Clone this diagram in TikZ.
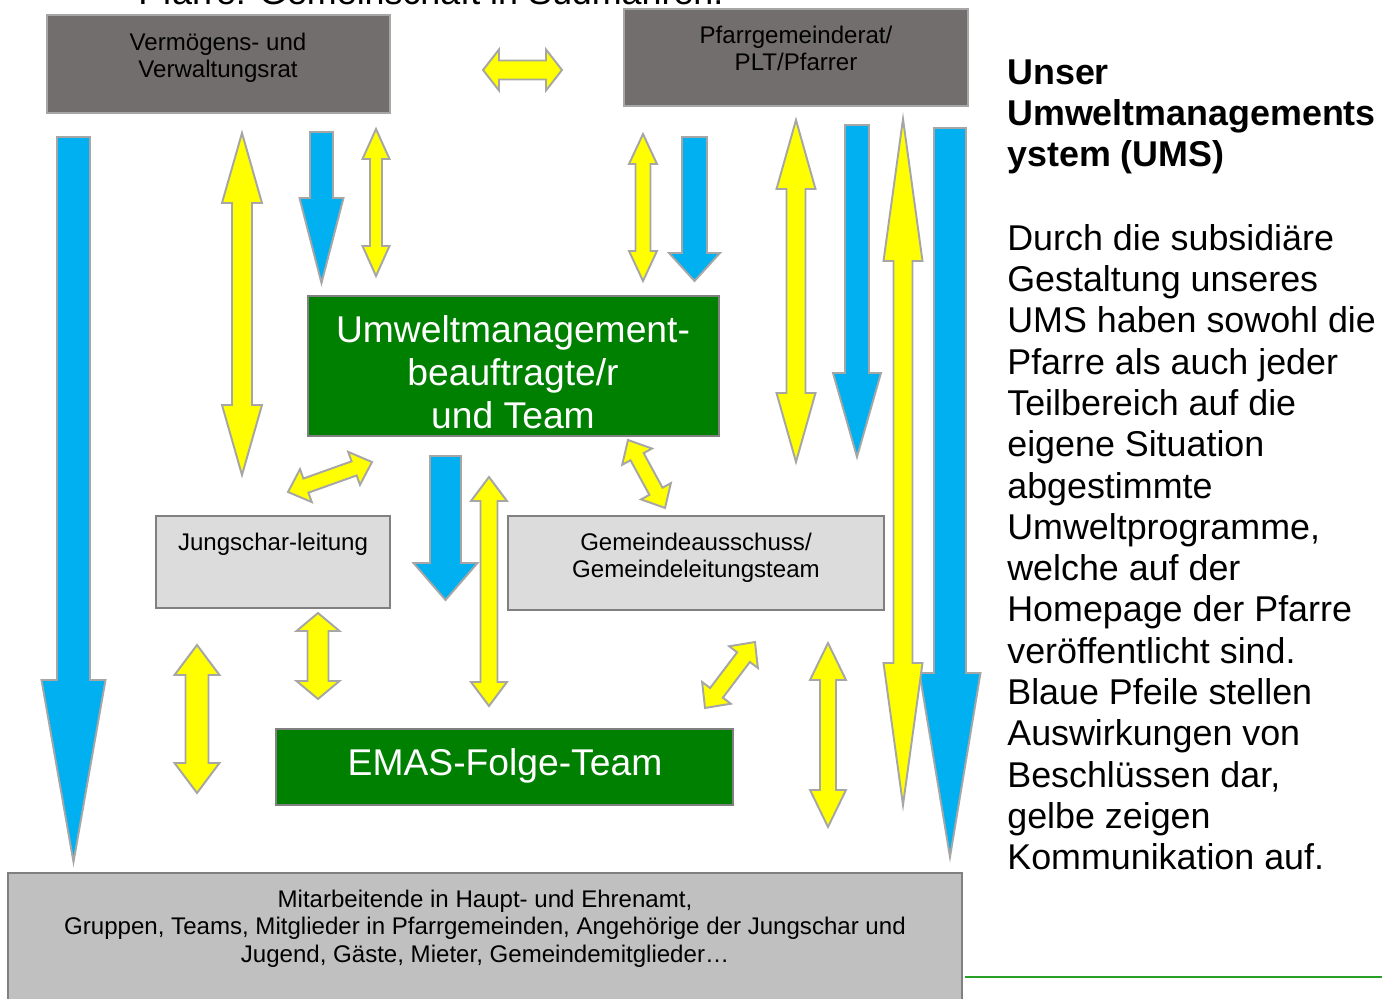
\documentclass[tikz,border=0pt]{standalone}
\usepackage{fontspec}
\setmainfont{Liberation Sans}
\usetikzlibrary{fit,positioning}

\definecolor{boxdark}{RGB}{114,110,109}
\definecolor{boxlight}{RGB}{220,220,220}
\definecolor{boxmid}{RGB}{192,192,192}
\definecolor{umsgreen}{RGB}{0,128,0}
\definecolor{umsblue}{RGB}{0,176,240}
\definecolor{umsyellow}{RGB}{255,255,0}
\definecolor{rimgray}{RGB}{166,166,166}
\definecolor{boxrim}{RGB}{128,128,128}
\definecolor{linegreen}{RGB}{40,160,40}

\newcommand{\boxfont}{\fontsize{13.7}{15.6}\selectfont}
\newcommand{\teamfont}{\fontsize{21.2}{24.4}\selectfont}
\newcommand{\bodyfont}{\fontsize{20.4}{23.5}\selectfont}

\tikzset{
  gremium/.style={rectangle, inner sep=0pt, line width=1.2pt},
  darkbox/.style={gremium, fill=boxdark, draw=boxrim!70},
  greenbox/.style={gremium, fill=umsgreen, draw=boxrim},
  lightbox/.style={gremium, fill=boxlight, draw=boxrim},
  basebox/.style={gremium, fill=boxmid, draw=boxrim},
  boxtext/.style={inner sep=0pt, align=center, anchor=north, font=\boxfont},
  teamtext/.style={inner sep=0pt, align=center, anchor=north, font=\teamfont, text=white},
  bluearrow/.style={fill=umsblue, draw=rimgray, line width=1.1pt},
  yellowarrow/.style={fill=umsyellow, draw=rimgray, line width=1.1pt},
}

% block arrow: style, start, angle, length, shaft half width, head half width, head length
\newcommand{\umsarrow}[7]{%
  \draw[#1, shift={#2}, rotate=#3]
    (0,-#5) -- ({#4-#7},-#5) -- ({#4-#7},-#6) -- (#4,0)
    -- ({#4-#7},#6) -- ({#4-#7},#5) -- (0,#5) -- cycle;}
\newcommand{\umsdoublearrow}[7]{%
  \draw[#1, shift={#2}, rotate=#3]
    (0,0) -- (#7,-#6) -- (#7,-#5) -- ({#4-#7},-#5) -- ({#4-#7},-#6) -- (#4,0)
    -- ({#4-#7},#6) -- ({#4-#7},#5) -- (#7,#5) -- (#7,#6) -- cycle;}

\begin{document}
\begin{tikzpicture}[x=0.02cm, y=-0.02cm]
  \useasboundingbox (0,0) rectangle (1394,999);

  % cut title
  \node[inner sep=0pt, anchor=base west, font=\bodyfont] (title) at (138,5)
    {Pfarre: Gemeinschaft in Südmähren.};

  % Gremien
  \node[darkbox, fit={(47,15) (390,113)}] (vvr) {};
  \node[boxtext] (vvr-text) at (218,32.5) {Vermögens- und\\Verwaltungsrat};
  \node[darkbox, fit={(624,9) (968,106)}] (pgr) {};
  \node[boxtext] (pgr-text) at (796,25.5) {Pfarrgemeinderat/\\PLT/Pfarrer};
  \node[greenbox, fit={(308,296) (719,436)}] (umb) {};
  \node[teamtext] (umb-text) at (513,315) {Umweltmanagement-\\beauftragte/r\\und Team};
  \node[lightbox, fit={(156,516) (390,608)}] (jsl) {};
  \node[boxtext] (jsl-text) at (273,532.5) {Jungschar-leitung};
  \node[lightbox, fit={(508,516) (884,610)}] (gat) {};
  \node[boxtext] (gat-text) at (696,532.5) {Gemeindeausschuss/\\Gemeindeleitungsteam};
  \node[greenbox, fit={(276,729) (733,805)}] (emas) {};
  \node[teamtext] (emas-text) at (505,748.5) {EMAS-Folge-Team};
  \node[basebox, fit={(8,873) (962,1010)}] (mit) {};
  \node[boxtext] (mit-text) at (485,889.5)
    {Mitarbeitende in Haupt- und Ehrenamt,\\
     Gruppen, Teams, Mitglieder in Pfarrgemeinden, Angehörige der Jungschar und\\
     Jugend, Gäste, Mieter, Gemeindemitglieder…};

  % Beschluesse (blau)
  \umsarrow{bluearrow}{(73.5,137)}{-90}{725}{16.5}{32}{182}
  \umsarrow{bluearrow}{(321.5,132)}{-90}{151}{11.5}{22}{85}
  \umsarrow{bluearrow}{(694.5,137)}{-90}{144}{12.5}{25.5}{28}
  \umsarrow{bluearrow}{(857,125)}{-90}{332}{12}{24}{84}
  \umsarrow{bluearrow}{(950,128)}{-90}{729}{16}{30.5}{184}
  \umsarrow{bluearrow}{(445.5,456)}{-90}{144}{15.5}{32}{37}

  % Kommunikation (gelb)
  \umsdoublearrow{yellowarrow}{(483,70)}{0}{79}{9.5}{20.5}{16}
  \umsdoublearrow{yellowarrow}{(242,133)}{-90}{342}{10}{20}{70}
  \umsdoublearrow{yellowarrow}{(376,129)}{-90}{147}{6}{13.5}{30}
  \umsdoublearrow{yellowarrow}{(643,134)}{-90}{147}{7.5}{14}{30}
  \umsdoublearrow{yellowarrow}{(796,120)}{-90}{342}{9.5}{19.5}{69}
  \umsdoublearrow{yellowarrow}{(903,119)}{-90}{686}{9.5}{19.5}{142}
  \umsdoublearrow{yellowarrow}{(489,477)}{-90}{229}{8.5}{18}{24}
  \umsdoublearrow{yellowarrow}{(318,613)}{-90}{86}{10.5}{21.5}{18}
  \umsdoublearrow{yellowarrow}{(197,645)}{-90}{148}{11.5}{22.5}{30}
  \umsdoublearrow{yellowarrow}{(828,643)}{-90}{184}{8}{18}{37}
  \umsdoublearrow{yellowarrow}{(288,492)}{19.65}{89.2}{7.5}{17.5}{19}
  \umsdoublearrow{yellowarrow}{(628,440)}{-61.4}{77.4}{7.5}{17}{19}
  \umsdoublearrow{yellowarrow}{(705,708)}{52.85}{82.8}{8}{18}{19}

  % Erlaeuterung
  \node[inner sep=0pt, anchor=north west, align=left, font=\bodyfont\bfseries] (ums-head)
    at (1007,59) {Unser\\Umweltmanagements\\ystem (UMS)};
  \node[inner sep=0pt, anchor=north west, align=left, font=\bodyfont] (ums-body)
    at (1007,224) {Durch die subsidiäre\\Gestaltung unseres\\UMS haben sowohl die\\
      Pfarre als auch jeder\\Teilbereich auf die\\eigene Situation\\abgestimmte\\
      Umweltprogramme,\\welche auf der\\Homepage der Pfarre\\veröffentlicht sind.\\
      Blaue Pfeile stellen\\Auswirkungen von\\Beschlüssen dar,\\gelbe zeigen\\
      Kommunikation auf.};
  \coordinate (rule-a) at (965,977);
  \coordinate (rule-b) at (1382,977);
  \draw[linegreen, line width=1.1pt] (rule-a) -- (rule-b);
\end{tikzpicture}
\end{document}
